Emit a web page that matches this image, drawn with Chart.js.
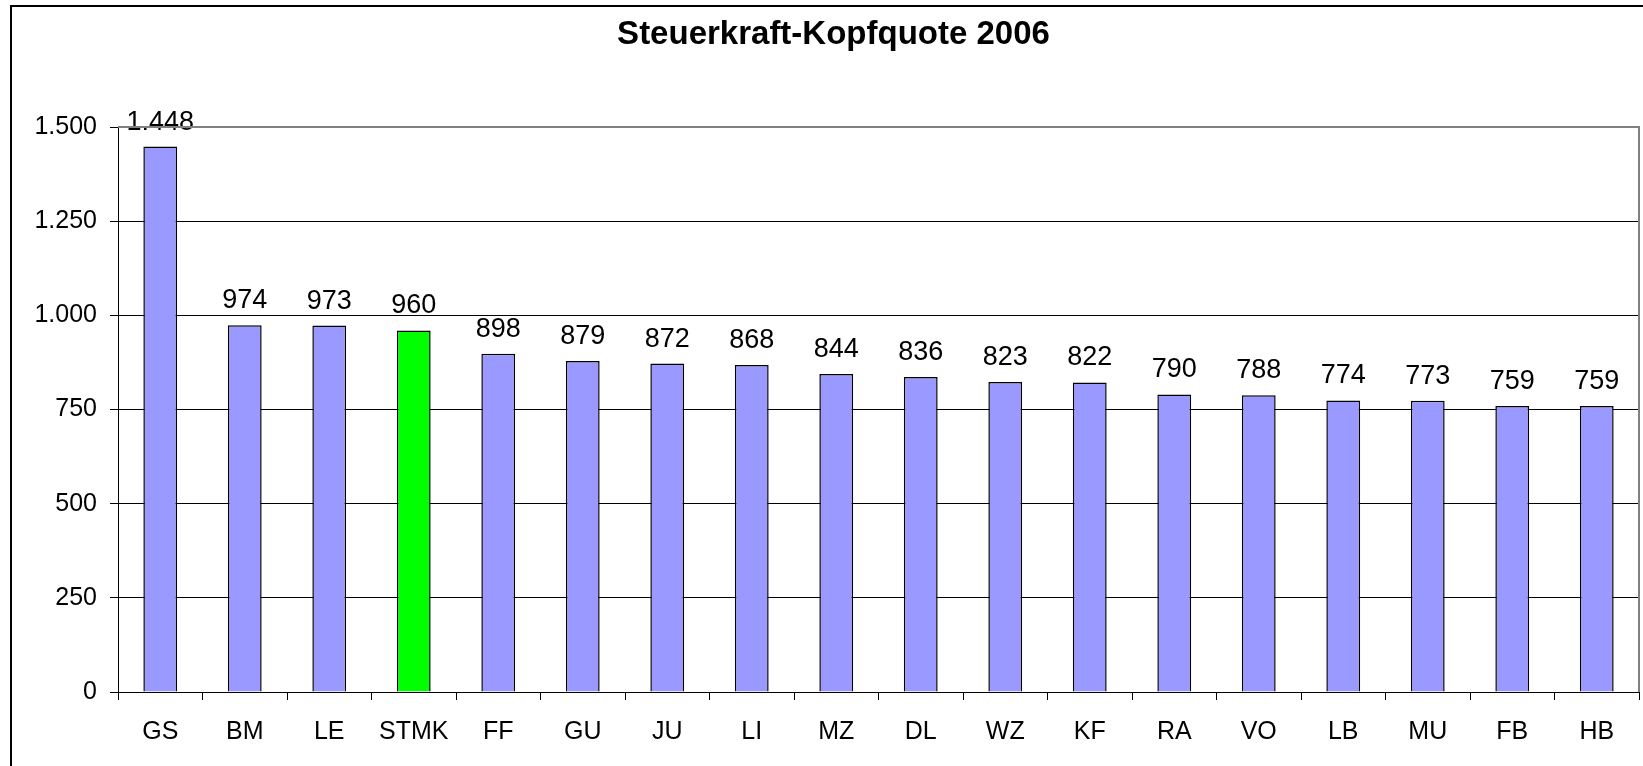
<!DOCTYPE html>
<html>
<head>
<meta charset="utf-8">
<title>Steuerkraft-Kopfquote 2006</title>
<script src="https://cdn.jsdelivr.net/npm/chart.js@4/dist/chart.umd.min.js"></script>
<style>
    html, body { margin: 0; padding: 0; background: #ffffff; }
    canvas { display: block; }
</style>
</head>
<body>
<canvas id="kopfquoteChart" width="1643" height="766"></canvas>
<script>
const chartTitle = 'Steuerkraft-Kopfquote 2006';
const districts = ['GS', 'BM', 'LE', 'STMK', 'FF', 'GU', 'JU', 'LI', 'MZ', 'DL', 'WZ', 'KF', 'RA', 'VO', 'LB', 'MU', 'FB', 'HB'];
const kopfquote = [1448, 974, 973, 960, 898, 879, 872, 868, 844, 836, 823, 822, 790, 788, 774, 773, 759, 759];
const highlighted = 'STMK';
const yTicks = [0, 250, 500, 750, 1000, 1250, 1500];

const FONT = '"Liberation Sans", Arial, Helvetica, sans-serif';

// 1448 -> "1.448"
function formatNum(v) {
    return String(v).replace(/\B(?=(\d{3})+(?!\d))/g, '.');
}

// outer chart frame + grey plot border (top/right)
const framePlugin = {
    id: 'frame',
    beforeDraw: function (chart) {
        const ctx = chart.ctx;
        ctx.save();
        ctx.fillStyle = '#ffffff';
        ctx.fillRect(0, 0, chart.width, chart.height);
        ctx.strokeStyle = '#000000';
        ctx.lineWidth = 2;
        ctx.strokeRect(11, 6, chart.width + 20, chart.height + 20);
        ctx.restore();
    },
    afterDraw: function (chart) {
        const a = chart.chartArea;
        const ctx = chart.ctx;
        ctx.save();
        ctx.strokeStyle = '#808080';
        ctx.lineWidth = 2;
        ctx.beginPath();
        ctx.moveTo(a.left, a.top);
        ctx.lineTo(a.right, a.top);
        ctx.lineTo(a.right, a.bottom);
        ctx.stroke();
        ctx.restore();
    }
};

// value labels above each bar
const valueLabels = {
    id: 'valueLabels',
    afterDatasetsDraw: function (chart) {
        const ctx = chart.ctx;
        const meta = chart.getDatasetMeta(0);
        ctx.save();
        ctx.font = '27px ' + FONT;
        ctx.fillStyle = '#000000';
        ctx.textAlign = 'center';
        ctx.textBaseline = 'alphabetic';
        meta.data.forEach(function (bar, i) {
            ctx.fillText(formatNum(kopfquote[i]), bar.x, bar.y - 17);
        });
        ctx.restore();
    }
};

const ctx = document.getElementById('kopfquoteChart');

new Chart(ctx, {
    type: 'bar',
    data: {
        labels: districts,
        datasets: [{
            data: kopfquote,
            backgroundColor: districts.map(function (d) { return d === highlighted ? '#00ff00' : '#9999ff'; }),
            borderColor: '#000000',
            borderWidth: 1.5,
            categoryPercentage: 1,
            barPercentage: 0.4
        }]
    },
    options: {
        responsive: false,
        animation: false,
        devicePixelRatio: 1,
        // left padding only shifts the title centre, axis width makes up for it
        layout: { padding: { left: 28, right: 4, top: 0, bottom: 0 } },
        plugins: {
            legend: { display: false },
            tooltip: { enabled: false },
            title: {
                display: true,
                text: chartTitle,
                color: '#000000',
                font: { family: FONT, size: 33, weight: 'bold', lineHeight: 1.2 },
                padding: { top: 15, bottom: 72.4 }
            }
        },
        scales: {
            x: {
                grid: { offset: true, drawOnChartArea: false, drawTicks: true, tickLength: 8, color: '#000000' },
                border: { color: '#000000', width: 1 },
                ticks: { color: '#000000', font: { family: FONT, size: 25 }, padding: 17, maxRotation: 0, autoSkip: false },
                afterFit: function (scale) { scale.height = 74; }
            },
            y: {
                min: 0,
                max: 1500,
                afterBuildTicks: function (scale) {
                    scale.ticks = yTicks.map(function (v) { return { value: v }; });
                },
                grid: { color: '#000000', lineWidth: 1, drawTicks: true, tickLength: 8 },
                border: { color: '#000000', width: 1 },
                ticks: {
                    color: '#000000',
                    font: { family: FONT, size: 25 },
                    padding: 13,
                    callback: function (v) { return formatNum(v); }
                },
                afterFit: function (scale) { scale.width = 90; }
            }
        }
    },
    plugins: [framePlugin, valueLabels]
});
</script>
</body>
</html>
